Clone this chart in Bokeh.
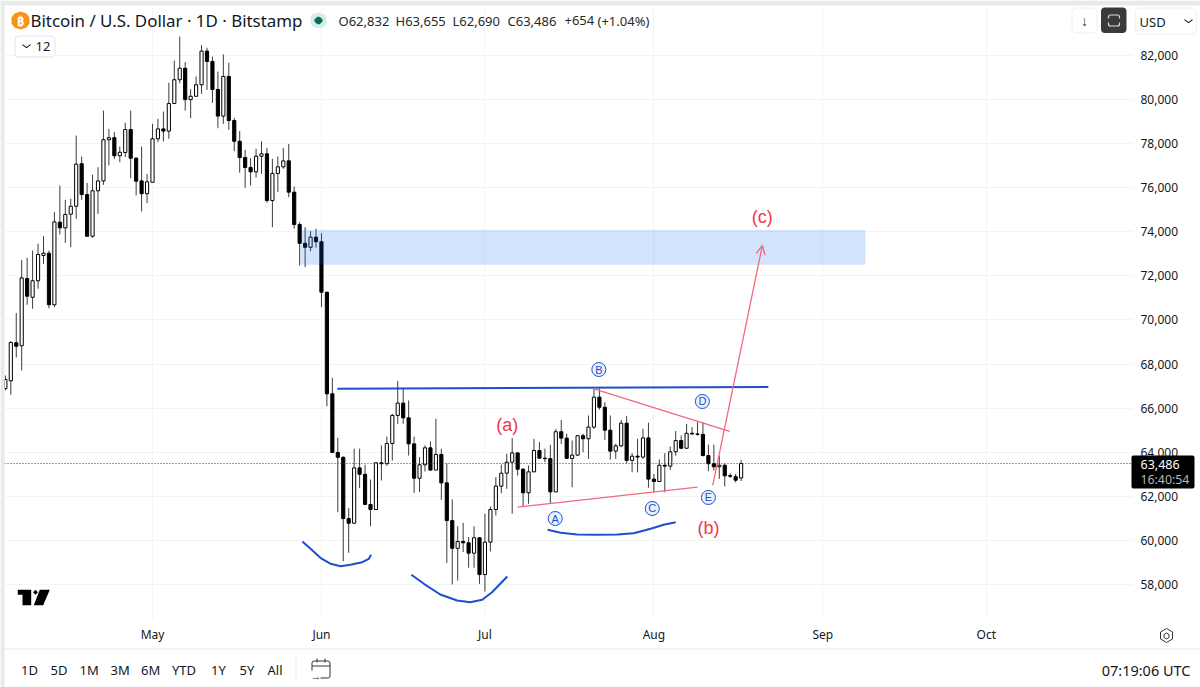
from bokeh.plotting import figure
from bokeh.embed import file_html
from bokeh.resources import INLINE
from bokeh.layouts import column
from bokeh.models import (Range1d, FixedTicker, NumeralTickFormatter, Span, BoxAnnotation, PolyAnnotation,
                          Label, Arrow, OpenHead, ColumnDataSource)

# days since 1 May, one candle per day
days = list(range(-27, 109))
opens = [66890,67240,68965,68830,71880,71030,71780,72930,73030,70690,
 74440,74180,74800,75160,77090,75690,73800,75860,76310,78180,
 78270,77450,77600,78640,77340,76310,75730,76250,78220,78670,
 78570,79820,80900,81420,80000,80150,80670,82200,81730,80460,
 79250,81050,79050,78110,77370,76920,76720,77430,77540,75420,
 76650,76950,77220,75800,74330,73480,73300,73760,73550,71260,
 66650,63990,63770,60990,60780,63290,63000,61630,61400,63520,
 63480,64400,65670,66230,65560,64380,62820,63430,64200,63190,
 63900,62610,60900,59640,59950,59890,59420,60120,58450,59920,
 61400,62460,63050,63550,63970,63230,62160,63110,64080,63730,
 63710,62200,64930,64640,63720,63870,64750,64610,65140,66500,
 66040,65000,64050,64290,65320,63630,63820,63780,64650,62780,
 62670,63410,63370,64020,64530,64180,64860,64830,64810,63850,
 63480,63340,63410,62940,62890,62832]
highs = [67480,69040,70310,72730,72820,73150,73460,73800,73150,74890,
 76100,75450,75500,78370,77420,76220,76590,76930,79500,78670,
 78520,77870,78950,79500,77390,77870,76630,78900,79130,79460,
 80760,81770,82860,81700,80470,81050,82470,82350,81950,81270,
 82050,81670,79170,78570,77720,77340,77770,78110,77810,77310,
 77420,77810,77990,76060,74440,74210,74030,74140,73940,71280,
 67380,64660,63810,61460,64160,64160,63430,62760,63530,64310,
 64710,65740,67230,66890,66350,64710,63780,64310,64490,65520,
 64160,63490,61860,60640,60800,60150,60640,60120,61210,61540,
 62870,63440,63930,64640,63980,63280,63400,64610,64460,64160,
 64340,65060,65470,64840,64530,64760,64840,65670,66880,66890,
 66270,65670,64380,65470,65640,63960,64610,65060,65340,63020,
 63670,63960,64260,64960,64760,65290,65140,65360,65360,64350,
 64350,63850,63480,63050,63020,63655]
lows = [66800,66610,68300,67710,70690,70510,71420,72550,70530,70580,
 73880,73500,73300,74590,75450,73790,73730,74820,76130,77010,
 77310,77160,77390,76430,75650,74920,75300,76250,78070,78100,
 78220,79810,80740,79500,79160,80150,80260,80440,79850,78700,
 78900,78630,77660,76680,76000,76100,76460,76630,75320,74210,
 75800,76860,75570,74140,72470,72400,73120,73280,70580,66090,
 63990,61280,59060,59440,60750,62370,61620,60640,61400,62720,
 63390,63620,65290,65290,63850,62160,62190,63130,63170,63200,
 61840,58980,58000,58180,59470,58760,58760,58030,57680,59500,
 61130,62140,62340,61210,62940,61510,61660,63130,63700,63550,
 61690,62190,64380,63700,62410,63840,64000,63700,65060,65930,
 64560,63660,63700,64230,63500,63090,63090,63700,62390,62190,
 62670,62190,63200,63850,64140,64160,64800,64760,63810,63140,
 63170,62790,62450,62840,62630,62690]
closes = [67300,68980,68810,71910,71080,71780,72970,73030,70690,74450,
 74180,74790,75160,77070,75690,73800,75860,76310,78180,78270,
 77450,77610,78640,77340,76300,75730,76270,78220,78670,78570,
 79820,80900,81420,80000,80150,80670,82200,81730,80460,79250,
 81050,79050,78110,77370,76920,76720,77430,77540,75420,76650,
 76950,77220,75800,74330,73480,73300,73760,73550,71260,66650,
 63990,63770,60990,60780,63290,63000,61630,61400,63520,63480,
 64400,65670,66230,65560,64380,62820,63430,64200,63190,63900,
 62610,60900,59640,59950,59890,59420,60120,58450,59920,61400,
 62460,63050,63550,63970,63230,62160,63110,64080,63730,63710,
 62200,64930,64640,63720,63870,64750,64610,65140,66500,66040,
 65000,64050,64290,65320,63630,63820,63780,64650,62780,62670,
 63410,63370,64020,64530,64180,64860,64830,64810,63850,63480,
 63340,63410,62930,62910,62730,63486]

price_ticks = [58000,60000,62000,64000,66000,68000,70000,72000,74000,76000,78000,80000,82000]
month_days = [0,31,61,92,123,153]
month_labels = ["May","Jun","Jul","Aug","Sep","Oct"]
last_price = 63486

zone_days = [27.2, 130.8]
zone_prices = [72504, 74083]
hline_days = [33.9, 113.0]
hline_prices = [66877, 66964]
upper_days = [81.0, 105.9]
upper_prices = [66878, 64941]
lower_days = [67.0, 100.0]
lower_prices = [61506, 62414]
arrow_days = [102.8, 111.9]
arrow_prices = [62491, 73379]
curve1_days = [27.5,29.0,30.8,32.7,34.5,36.3,38.5,39.7,40.1]
curve1_prices = [59950,59618,59210,58938,58829,58892,59010,59165,59346]
curve2_days = [47.5,49.8,52.8,55.9,58.3,60.5,62.3,63.9,65.1]
curve2_prices = [58439,58031,57546,57273,57196,57305,57650,58058,58362]
curve3_days = [72.5,74.9,77.9,81.6,85.3,88.3,91.4,93.8,96.0]
curve3_prices = [60481,60344,60268,60254,60268,60327,60526,60708,60826]
wave_names = ["A","B","C","D","E"]
wave_days = [73.9,81.9,91.7,100.9,102.0]
wave_prices = [60993,67753,61448,66302,61947]
sub_names = ["(a)","(b)","(c)"]
sub_days = [65.1,102.0,111.9]
sub_prices = [65258,60585,74695]

FONT = "Noto Sans"
INK = "#131722"
RED = "#f0364f"
REDL = "#f4687c"
BLUE = "#1c4fc9"

p = figure(width=1200, height=687, output_backend="svg", toolbar_location=None,
           x_range=Range1d(-27.156, 179.817), y_range=Range1d(56411, 84223),
           x_axis_location="below", y_axis_location="right",
           min_border_left=4, min_border_right=68, min_border_top=6, min_border_bottom=68,
           background_fill_color=None, border_fill_color=None, frame_align=False)
p.outline_line_color = None

p.yaxis.ticker = FixedTicker(ticks=price_ticks)
p.yaxis.formatter = NumeralTickFormatter(format="0,0")
p.xaxis.ticker = FixedTicker(ticks=month_days)
p.xaxis.major_label_overrides = dict(zip(month_days, month_labels))
for ax in (p.xaxis[0], p.yaxis[0]):
    ax.axis_line_color = None
    ax.major_tick_line_color = None
    ax.minor_tick_line_color = None
    ax.major_tick_out = 0
    ax.major_label_text_font = FONT
    ax.major_label_text_font_size = "12px"
    ax.major_label_text_color = INK
p.yaxis[0].major_label_standoff = 8
p.xaxis[0].major_label_standoff = 6
p.xgrid.grid_line_color = "#f3f4f6"
p.ygrid.grid_line_color = "#f3f4f6"

up = [c >= o for o, c in zip(opens, closes)]
src = ColumnDataSource(dict(day=days, o=opens, h=highs, l=lows, c=closes,
                            fill=["#ffffff" if u else "#000000" for u in up]))
p.segment("day", "h", "day", "l", source=src, line_color="#3c3c3c", line_width=1)
p.vbar("day", 0.58, "o", "c", source=src, fill_color="fill", line_color="#000000", line_width=1)

p.quad(left=[zone_days[0]], right=[zone_days[1]], bottom=[zone_prices[0]], top=[zone_prices[1]],
       fill_color="#0f6eeb", fill_alpha=0.19, line_color=None)
p.add_layout(Span(location=last_price, dimension="width", line_color="#333333", line_dash="1 2", line_width=1))

p.line(hline_days, hline_prices, line_color=BLUE, line_width=2)
for cx, cy in ((curve1_days, curve1_prices), (curve2_days, curve2_prices), (curve3_days, curve3_prices)):
    p.line(cx, cy, line_color=BLUE, line_width=2)
p.line(upper_days, upper_prices, line_color=REDL, line_width=1.3)
p.line(lower_days, lower_prices, line_color=REDL, line_width=1.3)
p.add_layout(Arrow(end=OpenHead(size=9, line_color=REDL, line_width=1.3), line_color=REDL, line_width=1.3,
                   x_start=arrow_days[0], y_start=arrow_prices[0], x_end=arrow_days[1], y_end=arrow_prices[1]))

p.scatter(wave_days, wave_prices, size=14, marker="circle", fill_color="#eaf1fd", line_color=BLUE, line_width=1)
p.text(wave_days, wave_prices, text=wave_names, text_font_size="11px", text_color=BLUE,
       text_align="center", text_baseline="middle")
p.text(sub_days, sub_prices, text=sub_names, text_font_size="18px", text_color=RED,
       text_align="center", text_baseline="middle")

# transparent layer over the chart for the surrounding interface
ui = figure(width=1200, height=687, output_backend="svg", toolbar_location=None,
            x_range=Range1d(0, 1200), y_range=Range1d(687, 0), x_axis_type=None, y_axis_type=None,
            min_border=0, margin=(-687, 0, 0, 0), background_fill_color=None, border_fill_color=None,
            frame_align=False)
ui.outline_line_color = None
ui.xgrid.visible = False
ui.ygrid.visible = False

def T(text, x, y, size=13, color=INK, align="left", weight="normal"):
    ui.add_layout(Label(x=x, y=y, x_units="canvas", y_units="canvas", text=text, text_font=FONT,
                        text_font_size=f"{size}px", text_color=color, text_align=align,
                        text_baseline="middle", text_font_style=weight, level="overlay"))

def B(l, t, r, b, fill=None, line=None, radius=0, lw=1):
    ui.add_layout(BoxAnnotation(left=l, right=r, top=t, bottom=b, left_units="canvas", right_units="canvas",
                                top_units="canvas", bottom_units="canvas", fill_color=fill,
                                fill_alpha=1 if fill else 0, line_color=line, line_alpha=1 if line else 0,
                                line_width=lw, border_radius=radius, level="overlay", editable=False))

def P(xs, ys, fill=None, line=None, lw=1):
    ui.add_layout(PolyAnnotation(xs=xs, ys=ys, xs_units="canvas", ys_units="canvas", fill_color=fill,
                                 fill_alpha=1 if fill else 0, line_color=line, line_alpha=1 if line else 0,
                                 line_width=lw, level="overlay"))

def chevron(cx, cy, w=4, h=3, t=1.2, color=INK):
    P([cx-w, cx, cx+w, cx+w, cx, cx-w], [cy-h/2, cy+h/2, cy-h/2, cy-h/2+t, cy+h/2+t, cy-h/2+t], fill=color)

# frame strips
B(0, 0, 1200, 5, fill="#e9e9e9")
B(0, 0, 4, 687, fill="#e9e9e9")
B(0, 648, 1200, 649, fill="#e6e7ea")

# header
P([11,14,20,26,29,29,26,20,14,11],[17,13,11,13,17,23,27,29,27,23], fill="#f7931a")
T("₿", 20, 20, 13, "#ffffff", "center", "bold")
T("Bitcoin / U.S. Dollar · 1D · Bitstamp", 30, 20, 16.9)
P([310,312,318,324,326,326,324,318,312,310],[17,14,12,14,17,23,26,28,26,23], fill="#d4eeea")
P([314,316,318,320,322,322,320,318,316,314],[19,17,16,17,19,21,23,24,23,21], fill="#0a6e5c")
for s, x in (("O62,832",338),("H63,655",395),("L62,690",452),("C63,486",507),("+654",564),("(+1.04%)",597)):
    T(s, x, 20, 13, "#1f2a2c")

B(14.5, 35.5, 54.5, 56.5, fill="#ffffff", line="#e2e4ea", radius=4)
chevron(26, 45)
T("12", 35, 46, 13)

# top right buttons
B(1071.5, 7.5, 1096.5, 32.5, fill="#ffffff", line="#eceef2", radius=5)
T("↓", 1084, 20, 14, "#333333", "center")
B(1100.5, 7, 1126, 32.5, fill="#3a3a3a", radius=4)
B(1108, 14.5, 1119, 25.5, line="#dddddd", radius=2, lw=1.2)
B(1106, 18, 1121, 22, fill="#3a3a3a")
B(1134.5, 7.5, 1196, 33.5, fill="#ffffff", line="#eceef2", radius=5)
T("USD", 1139, 21, 13)
chevron(1188, 20)

# last price tag
B(1131, 455, 1194, 488, fill="#000000", radius=2)
T("63,486", 1140, 464, 12.5, "#ffffff")
T("16:40:54", 1140, 479, 12.3, "#b8b8b8")

# tradingview mark
P([17.3,30.7,30.7,22,22,17.3],[589.3,589.3,604.7,604.7,594.3,594.3], fill="#000000")
P([32.5,35,37.5,35],[591.7,589.2,591.7,594.2], fill="#000000")
P([39.3,49.3,42.7,33.3],[589.3,589.3,604.7,604.7], fill="#000000")

# settings hexagon
P([1166,1172,1172,1166,1160,1160],[628,631.5,638.5,642,638.5,631.5], line="#333333")
P([1166,1168.5,1168.5,1166,1163.5,1163.5],[632.5,634,637,638.5,637,634], line="#333333")

# bottom bar
for s, x in (("1D",20.5),("5D",50),("1M",79),("3M",110),("6M",140.5),("YTD",171.5),("1Y",210.5),("5Y",239),("All",267)):
    T(s, x, 669, 13)
B(295, 658, 296, 680, fill="#e6e7ea")
B(311.5, 660.5, 329.5, 677.5, line="#333333", radius=2)
B(311.5, 665, 329.5, 666, fill="#333333")
B(310, 670, 320, 679, fill="#ffffff")
T("→", 310, 675, 11, "#333333")
B(316, 658, 317, 662, fill="#333333")
B(324, 658, 325, 662, fill="#333333")
T("07:19:06 UTC", 1190, 669, 14.5, INK, "right")

open("out.html", "w").write(file_html(column(p, ui, spacing=0), INLINE))
